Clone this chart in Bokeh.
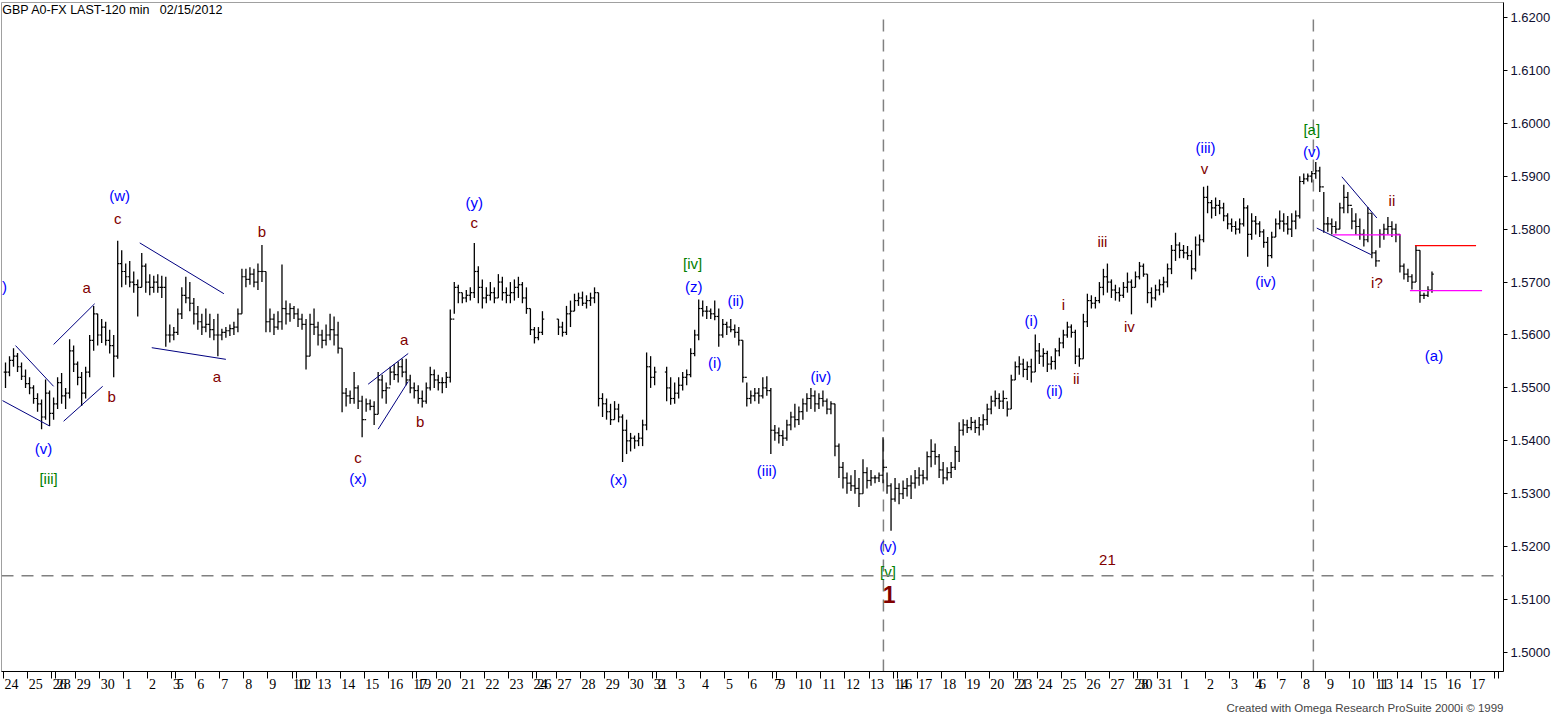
from bokeh.plotting import figure
from bokeh.models import (Range1d, LinearAxis, FixedTicker, Label, Title, Span,
                          PrintfTickFormatter, ColumnDataSource)
from bokeh.embed import file_html
from bokeh.resources import INLINE
from bokeh.core.properties import value

TITLE = "GBP A0-FX LAST-120 min\u00a0\u00a0\u00a002/15/2012"
CREDIT = "Created with Omega Research ProSuite 2000i \u00a9 1999"
BASE = 1.5          # all prices below are pips above 1.5000
N = None

# ---------------- calendar (one label per session) ----------------
day_labels = ["24", "25", "26",
              "28", "29", "30", "1", "2", "3",
              "5", "6", "7", "8", "9", "10",
              "12", "13", "14", "15", "16", "17",
              "19", "20", "21", "22", "23", "24",
              "26", "27", "28", "29", "30", "31",
              "2", "3", "4", "5", "6", "7",
              "9", "10", "11", "12", "13", "14",
              "16", "17", "18", "19", "20", "21",
              "23", "24", "25", "26", "27", "28",
              "30", "31", "1", "2", "3", "4",
              "6", "7", "8", "9", "10", "11",
              "13", "14", "15", "16", "17", "", ""]
WEEK = [5, 6, 6, 6, 6, 1]           # bars per session Mon..Sat
day_bars = [6, 6, 1] + WEEK * 12 + [5]

price_ticks = [1.50, 1.51, 1.52, 1.53, 1.54, 1.55, 1.56, 1.57, 1.58, 1.59, 1.60, 1.61, 1.62]

# ---------------- price bars (pips above 1.5000) ----------------
hi = [548, 560, 575, 566, 548, 535, 520, 505, 490, 478, 516, 495, 482,
      520, 528, 500, 592, 580, 550, 530, 540, 600, 655, 640,
      630, 625, 610, 600, 778, 760, 735, 740, 720, 705, 755, 735,
      715, 712, 715, 712, 710, 620, 615,
      650, 690, 710, 700, 670, 655, 640, 650, 640, 630, 640,
      612, 615, 620, 625, 650, 725, 725, 728, 725, 735, 770, 720,
      650, 640, 645, 733, 665, 660, 655,
      650, 640, 630, 640, 650, 625, 610, 620, 640, 635, 625,
      575, 500, 495, 530, 505, 485, 480, 478, 475, 530, 525, 510,
      540, 545, 550, 555, 555, 525, 510,
      505, 495, 510, 540, 535, 525, 520, 530, 648, 700, 695,
      680, 685, 690, 774, 730, 705, 690, 700, 690, 715, 710, 690,
      700, 705, 710, 700, 690, 650, 615,
      615, 645, N, N, N, 630, 625, 655, 665, 678, 680,
      682, 675, 680, 690, 680, 490, 480, 470, 475, 470, 450, 440,
      415, 410, 415, 440, 567, 560, 540,
      N, N, 540, 520, 510, 520, 530, 535, 575, 610, 667,
      665, 655, 650, 665, 650, 630, 625, 630, 620, 615, 590, 510,
      495, 500, 500, 520, 522, 500, 430,
      425, 420, 440, 455, 470, 465, 480, 490, 500, 495, 490,
      495, 480, 475, 470, 395, 360, 340, 335, 345, 330, 365, 350,
      345, 335, 340, 407, 340, 320, 330,
      320, 325, 330, 335, 345, 350, 345, 380, 403, 395, 375,
      360, 350, 360, 390, 435, 441, 440, 445, 440, 445, 450, 470,
      485, 495, 490, 495, 475, 525, 550,
      560, 555, 550, 555, 601, 585, 575, 570, 560, 575, 595,
      610, 625, 620, 610, 575, 640, 678, 675, 672, 700, 725, 735,
      705, 695, 690, 700, 718, 705, 720,
      738, 735, 715, 690, 695, 705, 710, 735, 770, 793, 775,
      770, 768, 760, 786, 790, 880, 882, 855, 860, 855, 850, 830,
      820, 815, 820, 859, 845, 830, 825,
      815, 800, 785, 795, 820, 835, 830, 825, 830, 835, 900,
      905, 905, 910, 927, 918, 870, 823, 820, 815, 850, 884, 870,
      840, 830, 820, 800, 842, 830, 760,
      800, 810, 823, 815, 810, 790, 735, 725, 715, 769, 760,
      680, 692, 720]
lo = [500, 522, 540, 530, 515, 500, 488, 470, 455, 422, 440, 428, 440,
      460, 470, 460, 480, 530, 505, 466, 480, 520, 570, 580,
      585, 580, 565, 520, 555, 690, 695, 690, 680, 635, 690, 680,
      675, 680, 680, 670, 578, 586, 590,
      600, 630, 660, 645, 620, 610, 600, 605, 595, 590, 560,
      590, 595, 598, 600, 605, 640, 690, 695, 690, 685, 700, 605,
      605, 600, 610, 610, 620, 625, 630,
      615, 610, 535, 560, 600, 580, 575, 580, 590, 580, 565,
      454, 465, 470, 470, 460, 407, 455, 458, 430, 450, 480, 470,
      505, 515, 510, 520, 505, 490, 480,
      470, 463, 470, 495, 500, 495, 490, 500, 510, 640, 660,
      660, 662, 665, 670, 660, 650, 660, 665, 660, 670, 665, 660,
      660, 665, 670, 660, 640, 600, 584,
      590, 600, N, N, N, 600, 597, 600, 615, 645, 655,
      655, 650, 655, 660, 465, 445, 440, 430, 440, 435, 360, 375,
      380, 385, 390, 390, 420, 500, 505,
      N, N, 475, 468, 470, 480, 495, 505, 520, 560, 590,
      635, 630, 630, 628, 578, 595, 600, 605, 595, 580, 510, 465,
      470, 475, 470, 480, 485, 375, 400,
      395, 390, 400, 420, 425, 430, 440, 455, 460, 455, 460,
      465, 450, 450, 371, 330, 310, 300, 305, 300, 275, 300, 310,
      315, 320, 322, 320, 300, 230, 285,
      280, 290, 295, 290, 310, 315, 318, 325, 350, 355, 330,
      318, 325, 330, 345, 360, 410, 415, 420, 415, 410, 420, 430,
      450, 465, 460, 460, 446, 460, 515,
      525, 520, 515, 510, 530, 545, 540, 530, 535, 535, 560,
      575, 595, 595, 545, 540, 555, 615, 650, 650, 660, 675, 680,
      670, 665, 663, 670, 680, 639, 690,
      705, 710, 660, 652, 665, 675, 680, 690, 715, 740, 745,
      745, 742, 705, 720, 750, 775, 830, 820, 825, 828, 815, 800,
      795, 790, 792, 805, 748, 780, 790,
      785, 765, 729, 745, 785, 800, 795, 790, 785, 800, 820,
      885, 890, 888, 895, 870, 793, 795, 790, 792, 800, 830, 830,
      800, 790, 780, 767, 775, 745, 729,
      765, 780, 790, 785, 775, 718, 705, 700, 686, 700, 661,
      668, 672, 680]
cl = [530, 552, 560, 540, 522, 508, 500, 480, 470, 445, 490, 452, 470,
      510, 485, 490, 570, 545, 520, 490, 530, 590, 640, 600,
      615, 590, 580, 560, 735, 720, 710, 700, 695, 690, 730, 700,
      690, 700, 690, 690, 600, 600, 605,
      640, 675, 670, 660, 640, 625, 615, 620, 610, 600, 600,
      605, 608, 612, 615, 640, 710, 705, 715, 700, 720, 720, 625,
      630, 615, 625, 650, 640, 650, 640,
      630, 620, 560, 620, 615, 600, 590, 600, 610, 600, 575,
      490, 485, 480, 500, 475, 440, 470, 465, 450, 515, 495, 500,
      530, 525, 540, 530, 515, 500, 495,
      480, 475, 500, 525, 515, 510, 510, 520, 630, 690, 680,
      670, 675, 680, 720, 690, 670, 675, 680, 670, 700, 680, 675,
      680, 690, 695, 670, 650, 610, 595,
      605, 630, N, N, N, 615, 605, 640, 645, 665, 670,
      660, 665, 670, 680, 480, 470, 455, 440, 460, 445, 420, 400,
      405, 400, 405, 430, 540, 520, 530,
      N, N, 500, 480, 490, 505, 520, 525, 565, 600, 650,
      645, 645, 640, 635, 600, 620, 615, 610, 605, 590, 520, 480,
      485, 490, 485, 500, 495, 420, 415,
      410, 405, 430, 445, 440, 455, 470, 480, 485, 470, 480,
      475, 460, 470, 390, 350, 330, 320, 315, 310, 300, 340, 325,
      330, 330, 335, 350, 315, 290, 310,
      300, 310, 315, 320, 330, 335, 330, 370, 380, 370, 345,
      330, 340, 350, 380, 420, 430, 425, 435, 425, 430, 440, 460,
      475, 480, 475, 480, 460, 515, 540,
      545, 535, 540, 530, 570, 560, 565, 545, 550, 570, 585,
      600, 615, 605, 560, 555, 625, 665, 660, 665, 690, 710, 700,
      685, 680, 675, 690, 700, 690, 710,
      730, 715, 680, 670, 685, 695, 700, 725, 760, 770, 760,
      755, 750, 725, 770, 780, 860, 850, 840, 845, 840, 825, 810,
      805, 800, 810, 840, 790, 815, 810,
      795, 775, 750, 785, 810, 815, 810, 800, 815, 825, 890,
      895, 900, 905, 910, 880, 810, 810, 805, 800, 840, 860, 845,
      815, 805, 790, 780, 830, 755, 740,
      790, 800, 805, 800, 790, 730, 715, 710, 700, 760, 675,
      675, 685, 715]

# ---------------- wave annotations (bar index, pips) ----------------
lab_text = [")", "(v)", "[iii]", "a", "b", "c", "(w)", "a", "b", "c", "(x)", "a", "b",
            "c", "(y)", "(x)", "[iv]", "(z)", "(i)", "(ii)", "(iii)", "(iv)", "(v)",
            "[v]", "(i)", "(ii)", "i", "ii", "iii", "iv", "v", "(iii)", "(iv)",
            "[a]", "(v)", "i?", "ii", "(a)", "21"]
lab_bar = [-0.25, 9.5, 10.75, 20.25, 26.5, 28, 28.5, 52.75, 64, 88, 88, 99.5, 103.5,
           117, 117, 153, 171.5, 171.75, 177, 182.25, 190, 203.5, 220.25,
           220.25, 256, 261.75, 264, 267.25, 273.75, 280.5, 299.25, 299.5, 314.5,
           326, 326, 342.25, 346, 356.5, 275]
lab_pips = [691, 386, 328, 689, 484, 821, 863, 522, 795, 369, 328, 591, 437,
            812, 850, 326, 735, 691, 548, 665, 343, 522, 200,
            154, 627, 495, 657, 518, 776, 616, 914, 955, 701,
            989, 946, 699, 855, 561, 175]
wave_label = ("1", 220.5, 109)

# trend lines (bar, pips)
tl_x0 = [-0.75, 2.5, 12, 14.5, 33.5, 36.5, 90.5, 93, 333.5, 327.25]
tl_y0 = [476, 580, 582, 437, 774, 576, 507, 422, 899, 802]
tl_x1 = [11, 12, 22.25, 24.25, 54.5, 55, 100.5, 100.5, 342.25, 340.75]
tl_y1 = [428, 503, 659, 503, 678, 554, 565, 512, 821, 752]
# horizontal levels (bar from, bar to, pips)
lvl_x0 = [331.25, 350.5, 351.75]
lvl_x1 = [348.25, 368.5, 367]
lvl_y = [789, 684, 769]
lvl_color = ["#ff00ff", "#ff00ff", "#ff0000"]
# dashed cycle markers
cycle_bars = [219.1, 326.4]
cycle_level = 145


def pr(v):
    return float("nan") if v is None else BASE + v / 10000.0


# ---------------- build bar source ----------------
xs, hs, ls, cs, os_ = [], [], [], [], []
prev = None
for i in range(len(hi)):
    if hi[i] is None:
        continue
    o = cl[i] if prev is None else prev
    xs.append(i)
    hs.append(pr(hi[i]))
    ls.append(pr(lo[i]))
    cs.append(pr(cl[i]))
    os_.append(pr(o))
    prev = cl[i]
src = ColumnDataSource(dict(x=xs, hi=hs, lo=ls, cl=cs, op=os_,
                            xl=[x - 0.45 for x in xs], xr=[x + 0.45 for x in xs]))

Y0, Y1 = 1.496413, 1.622826
p = figure(width=1558, height=721, output_backend="svg", toolbar_location=None,
           x_range=Range1d(-1.0, 373.85), y_range=Range1d(Y0, Y1),
           x_axis_location=None, y_axis_location="right",
           min_border_left=1, min_border_right=55, min_border_top=2, min_border_bottom=48)
p.grid.visible = False
p.outline_line_color = "#a0a0a0"
p.background_fill_color = "white"
p.border_fill_color = "white"

# right price axis
ya = p.yaxis[0]
ya.ticker = FixedTicker(ticks=price_ticks)
ya.formatter = PrintfTickFormatter(format="%.4f")
ya.major_tick_out = 4
ya.major_tick_in = 0
ya.minor_tick_line_color = None
ya.major_label_standoff = 3
ya.major_label_text_font = "Liberation Sans"
ya.major_label_text_font_size = "13px"
ya.major_label_text_color = "#101030"
ya.axis_line_color = "black"
ya.major_tick_line_color = "black"

# bottom date axis: session boundaries as tick marks, labels to their right
edges, label_pos, overrides = [], [], {}
pos = 0
for lab, nb in zip(day_labels, day_bars):
    edges.append(pos - 0.5)
    if lab:
        c = round(pos - 0.5 + (1.5 + 3.3 * len(lab)) / 4.007, 3)
        label_pos.append(c)
        overrides[c] = lab
    pos += nb
xa = LinearAxis(ticker=FixedTicker(ticks=label_pos, minor_ticks=edges),
                major_label_overrides=overrides)
xa.major_tick_line_color = None
xa.major_tick_out = 0
xa.major_tick_in = 0
xa.minor_tick_out = 7
xa.minor_tick_in = 0
xa.minor_tick_line_color = "black"
xa.axis_line_color = "black"
xa.major_label_standoff = 0
xa.major_label_text_font = "Liberation Sans Narrow"
xa.major_label_text_font_size = "14px"
xa.major_label_text_color = "black"
p.add_layout(xa, "below")

# dashed markers
p.segment(x0=cycle_bars, y0=[Y0] * 2, x1=cycle_bars, y1=[1.62] * 2,
          line_color="#808080", line_width=1.5, line_dash="12 8")
p.add_layout(Span(location=pr(cycle_level), dimension="width", line_color="#808080",
                  line_width=1.5, line_dash="12 8"))

# OHLC bars
p.segment(x0="x", y0="lo", x1="x", y1="hi", source=src, line_color="black", line_width=1.3)
p.segment(x0="xl", y0="op", x1="x", y1="op", source=src, line_color="black", line_width=1.2)
p.segment(x0="x", y0="cl", x1="xr", y1="cl", source=src, line_color="black", line_width=1.2)

# trend lines and levels
p.segment(x0=tl_x0, y0=[pr(v) for v in tl_y0], x1=tl_x1, y1=[pr(v) for v in tl_y1],
          line_color="#000080", line_width=1)
p.segment(x0=lvl_x0, y0=[pr(v) for v in lvl_y], x1=lvl_x1, y1=[pr(v) for v in lvl_y],
          line_color=lvl_color, line_width=1.2)

# wave labels
def lab_color(t):
    if t.startswith("(") or t == ")":
        return "#0000ff"
    if t.startswith("["):
        return "#008000"
    return "#800000"

lsrc = ColumnDataSource(dict(x=lab_bar, y=[pr(v) for v in lab_pips], t=lab_text,
                             c=[lab_color(t) for t in lab_text]))
p.text(x="x", y="y", text="t", source=lsrc, text_color="c", text_align="center",
       text_baseline="middle", text_font=value("Liberation Sans"), text_font_size="15px")
p.text(x=[wave_label[1]], y=[pr(wave_label[2])], text=[wave_label[0]], text_color="#800000",
       text_align="center", text_baseline="middle", text_font=value("Liberation Sans"),
       text_font_size="23px", text_font_style="bold")

# header and credit
p.add_layout(Label(x=-0.8, y=1.62132, text=TITLE, text_font="Liberation Sans",
                   text_font_size="12.5px", text_baseline="middle", text_align="left",
                   text_color="black"))
p.add_layout(Title(text=CREDIT, align="right", text_font="Liberation Sans",
                   text_font_size="11.5px", text_font_style="normal", standoff=16), "below")

open("out.html", "w").write(file_html(p, INLINE))
